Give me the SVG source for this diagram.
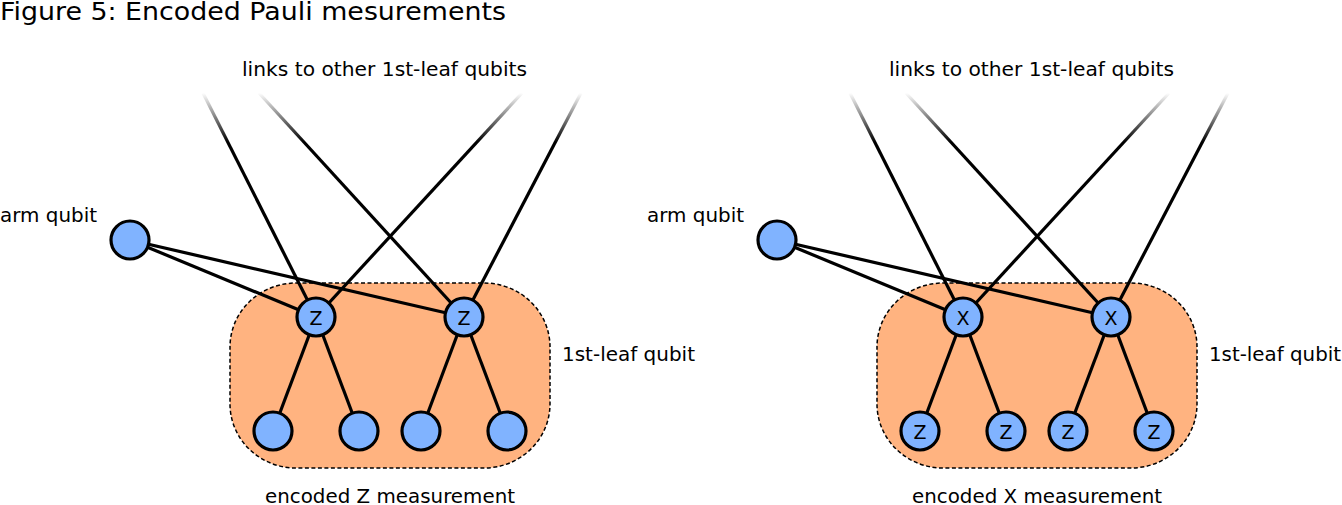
<svg xmlns="http://www.w3.org/2000/svg" width="1342" height="505" viewBox="0 0 1342 505">
<style>
text{font-family:"DejaVu Sans",Verdana,sans-serif;fill:#000}
.lbl{font-size:19px}
.ttl{font-size:24px}
.q{fill:#80b3ff;stroke:#000;stroke-width:3.2}
.qt{font-size:19px;text-anchor:middle;dominant-baseline:central}
.box{fill:#ffb380;stroke:#000;stroke-width:1.5;stroke-dasharray:4 2.5}
.e{stroke:#000;stroke-width:3.2;fill:none}
.f{stroke:url(#fade);stroke-width:3.2;fill:none}
</style>
<defs>
<linearGradient id="fade" x1="0" y1="0" x2="0" y2="1">
<stop offset="0" stop-color="#000" stop-opacity="0"/>
<stop offset="0.22" stop-color="#000" stop-opacity="1"/>
<stop offset="1" stop-color="#000" stop-opacity="1"/>
</linearGradient>
</defs>
<text class="ttl" x="0" y="20" textLength="506" lengthAdjust="spacingAndGlyphs">Figure 5: Encoded Pauli mesurements</text>

<g id="left">
<g id="boxL"><rect class="box" x="230" y="283" width="320" height="185" rx="66" ry="64"/></g>
<g id="connectorsL">
<line class="f" x1="203" y1="93" x2="316" y2="317"/>
<line class="f" x1="259" y1="93" x2="464" y2="317"/>
<line class="f" x1="522" y1="93" x2="316" y2="317"/>
<line class="f" x1="581" y1="93" x2="464" y2="317"/>
<line class="e" x1="130" y1="240" x2="316" y2="317"/>
<line class="e" x1="130" y1="240" x2="464" y2="317"/>
<line class="e" x1="316" y1="317" x2="273" y2="431"/>
<line class="e" x1="316" y1="317" x2="359" y2="431"/>
<line class="e" x1="464" y1="317" x2="421" y2="431"/>
<line class="e" x1="464" y1="317" x2="507" y2="431"/>
</g>
<g id="armL"><circle class="q" cx="130" cy="240" r="19"/></g>
<g id="z1"><circle class="q" cx="316" cy="317" r="19"/><text class="qt" x="316" y="318">Z</text></g>
<g id="z2"><circle class="q" cx="464" cy="317" r="19"/><text class="qt" x="464" y="318">Z</text></g>
<g id="l1"><circle class="q" cx="273" cy="431" r="19"/></g>
<g id="l2"><circle class="q" cx="359" cy="431" r="19"/></g>
<g id="l3"><circle class="q" cx="421" cy="431" r="19"/></g>
<g id="l4"><circle class="q" cx="507" cy="431" r="19"/></g>
<text class="lbl" x="242" y="76" textLength="285" lengthAdjust="spacingAndGlyphs">links to other 1st-leaf qubits</text>
<text class="lbl" x="0" y="222" textLength="97" lengthAdjust="spacingAndGlyphs">arm qubit</text>
<text class="lbl" x="562" y="361" textLength="133" lengthAdjust="spacingAndGlyphs">1st-leaf qubit</text>
<text class="lbl" x="265" y="503" textLength="250" lengthAdjust="spacingAndGlyphs">encoded Z measurement</text>
</g>

<g id="right">
<g id="boxR"><rect class="box" x="877" y="283" width="320" height="185" rx="66" ry="64"/></g>
<g id="connectorsR">
<line class="f" x1="850" y1="93" x2="963" y2="317"/>
<line class="f" x1="906" y1="93" x2="1111" y2="317"/>
<line class="f" x1="1169" y1="93" x2="963" y2="317"/>
<line class="f" x1="1228" y1="93" x2="1111" y2="317"/>
<line class="e" x1="777" y1="240" x2="963" y2="317"/>
<line class="e" x1="777" y1="240" x2="1111" y2="317"/>
<line class="e" x1="963" y1="317" x2="920" y2="431"/>
<line class="e" x1="963" y1="317" x2="1006" y2="431"/>
<line class="e" x1="1111" y1="317" x2="1068" y2="431"/>
<line class="e" x1="1111" y1="317" x2="1154" y2="431"/>
</g>
<g id="armR"><circle class="q" cx="777" cy="240" r="19"/></g>
<g id="x1"><circle class="q" cx="963" cy="317" r="19"/><text class="qt" x="963" y="318">X</text></g>
<g id="x2"><circle class="q" cx="1111" cy="317" r="19"/><text class="qt" x="1111" y="318">X</text></g>
<g id="r1"><circle class="q" cx="920" cy="431" r="19"/><text class="qt" x="920" y="432">Z</text></g>
<g id="r2"><circle class="q" cx="1006" cy="431" r="19"/><text class="qt" x="1006" y="432">Z</text></g>
<g id="r3"><circle class="q" cx="1068" cy="431" r="19"/><text class="qt" x="1068" y="432">Z</text></g>
<g id="r4"><circle class="q" cx="1154" cy="431" r="19"/><text class="qt" x="1154" y="432">Z</text></g>
<text class="lbl" x="889" y="76" textLength="285" lengthAdjust="spacingAndGlyphs">links to other 1st-leaf qubits</text>
<text class="lbl" x="647" y="222" textLength="97" lengthAdjust="spacingAndGlyphs">arm qubit</text>
<text class="lbl" x="1209" y="361" textLength="132" lengthAdjust="spacingAndGlyphs">1st-leaf qubit</text>
<text class="lbl" x="912" y="503" textLength="250" lengthAdjust="spacingAndGlyphs">encoded X measurement</text>
</g>
</svg>
